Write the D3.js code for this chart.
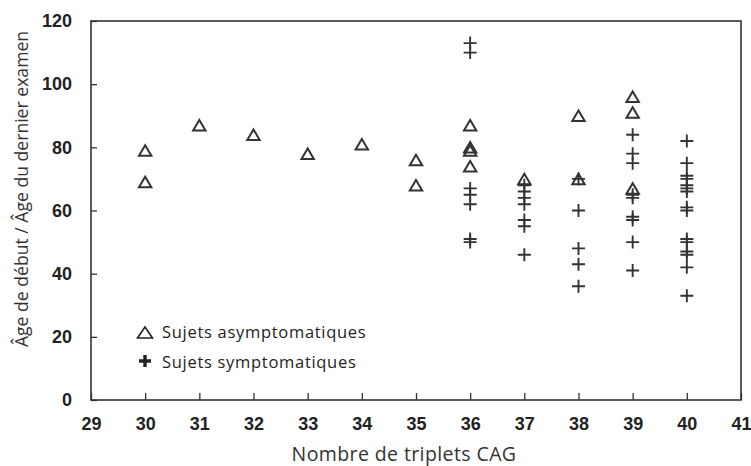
<!DOCTYPE html>
<html>
<head>
<meta charset="utf-8">
<script src="https://cdn.jsdelivr.net/npm/d3@7"></script>
<style>
  body { margin: 0; background: #fff; }
</style>
</head>
<body>
<div id="chart"></div>
<script>
// CAG repeat count and age for each subject
const asymCag = [30, 30, 31, 32, 33, 34, 35, 35, 36, 36, 36, 36, 37, 38, 38, 39, 39, 39];
const asymAge = [79, 69, 87, 84, 78, 81, 76, 68, 87, 80, 79, 74, 70, 90, 70, 96, 91, 67];

const symCag = [36, 36, 36, 36, 36, 36, 36,
                37, 37, 37, 37, 37, 37, 37,
                38, 38, 38, 38, 38,
                39, 39, 39, 39, 39, 39, 39, 39, 39,
                40, 40, 40, 40, 40, 40, 40, 40, 40, 40, 40, 40, 40, 40, 40];
const symAge = [113, 110, 67, 65, 62, 51, 50,
                68, 66, 64, 62, 57, 55, 46,
                70, 60, 48, 43, 36,
                84, 78, 75, 65, 64, 58, 57, 50, 41,
                82, 75, 71, 70, 68, 67, 66, 61, 60, 51, 50, 47, 46, 42, 33];

const xTicks = [29, 30, 31, 32, 33, 34, 35, 36, 37, 38, 39, 40, 41];
const yTicks = [0, 20, 40, 60, 80, 100, 120];
const legendLabels = ["Sujets asymptomatiques", "Sujets symptomatiques"];

const W = 751, H = 466;
const margin = {top: 21, right: 10, bottom: 66, left: 91};
const width = W - margin.left - margin.right,
      height = H - margin.top - margin.bottom;
const ink = "#333";

const svg = d3.select("#chart")
  .append("svg")
    .attr("width", W)
    .attr("height", H);

const g = svg.append("g")
  .attr("transform", `translate(${margin.left},${margin.top})`);

const x = d3.scaleLinear().domain([29, 41]).range([0, width]);
const y = d3.scaleLinear().domain([0, 120]).range([height, 0]);

// frame
g.append("rect")
  .attr("width", width)
  .attr("height", height)
  .attr("fill", "none")
  .attr("stroke", ink)
  .attr("stroke-width", 1.6);

// x axis (ticks pointing inside)
const xAxis = g.append("g")
  .attr("transform", `translate(0,${height})`)
  .call(d3.axisBottom(x).tickValues(xTicks).tickSize(-7).tickSizeOuter(0).tickPadding(17).tickFormat(d3.format("d")));
xAxis.select(".domain").remove();
xAxis.selectAll("line").attr("stroke", ink).attr("stroke-width", 1.3);
xAxis.selectAll("text")
  .attr("fill", "#222")
  .style("font-family", "'Liberation Sans', Arial, sans-serif")
  .style("font-weight", "bold")
  .style("font-size", "18px");

// y axis
const yAxis = g.append("g")
  .call(d3.axisLeft(y).tickValues(yTicks).tickSize(-6).tickSizeOuter(0).tickPadding(19));
yAxis.select(".domain").remove();
yAxis.selectAll("line").attr("stroke", ink).attr("stroke-width", 1.3);
yAxis.selectAll("text")
  .attr("fill", "#222")
  .style("font-family", "'Liberation Sans', Arial, sans-serif")
  .style("font-weight", "bold")
  .style("font-size", "18px");

// axis titles
svg.append("text")
  .attr("x", 404)
  .attr("y", 461)
  .attr("text-anchor", "middle")
  .style("font-family", "'Open Sans', sans-serif")
  .style("font-size", "19.5px")
  .style("letter-spacing", "0.4px")
  .attr("fill", "#333")
  .text("Nombre de triplets CAG");

svg.append("text")
  .attr("transform", "translate(28,189) rotate(-90)")
  .attr("text-anchor", "middle")
  .style("font-family", "'Open Sans', sans-serif")
  .style("font-size", "17.6px")
  .attr("fill", "#333")
  .text("Âge de début / Âge du dernier examen");

// marker shapes
const triPath = (s) => `M0,${-s * 0.85}L${s},${s * 0.85}L${-s},${s * 0.85}Z`;
const crossPath = (s) => `M${-s},0H${s}M0,${-s}V${s}`;

// asymptomatic subjects: open triangles
g.append("g")
  .selectAll("path")
  .data(asymCag.map((c, i) => [c, asymAge[i]]))
  .join("path")
    .attr("transform", d => `translate(${x(d[0])},${y(d[1])})`)
    .attr("d", triPath(6.2))
    .attr("fill", "none")
    .attr("stroke", ink)
    .attr("stroke-width", 2)
    .attr("stroke-linejoin", "miter");

// symptomatic subjects: crosses
g.append("g")
  .selectAll("path")
  .data(symCag.map((c, i) => [c, symAge[i]]))
  .join("path")
    .attr("transform", d => `translate(${x(d[0])},${y(d[1])})`)
    .attr("d", crossPath(6.5))
    .attr("fill", "none")
    .attr("stroke", ink)
    .attr("stroke-width", 1.9);

// legend
const legend = svg.append("g");
legend.append("path")
  .attr("transform", "translate(145,333)")
  .attr("d", "M0,-6L7.5,5L-7.5,5Z")
  .attr("fill", "none")
  .attr("stroke", "#222")
  .attr("stroke-width", 1.6);
legend.append("path")
  .attr("transform", "translate(145,361)")
  .attr("d", crossPath(6))
  .attr("fill", "none")
  .attr("stroke", "#222")
  .attr("stroke-width", 3.4);

legend.selectAll("text")
  .data(legendLabels)
  .join("text")
    .attr("x", 162)
    .attr("y", (d, i) => 338 + i * 30)
    .style("font-family", "'Open Sans', sans-serif")
    .style("font-size", "16.5px")
    .style("letter-spacing", "0.7px")
    .attr("fill", "#222")
    .text(d => d);
</script>
</body>
</html>
